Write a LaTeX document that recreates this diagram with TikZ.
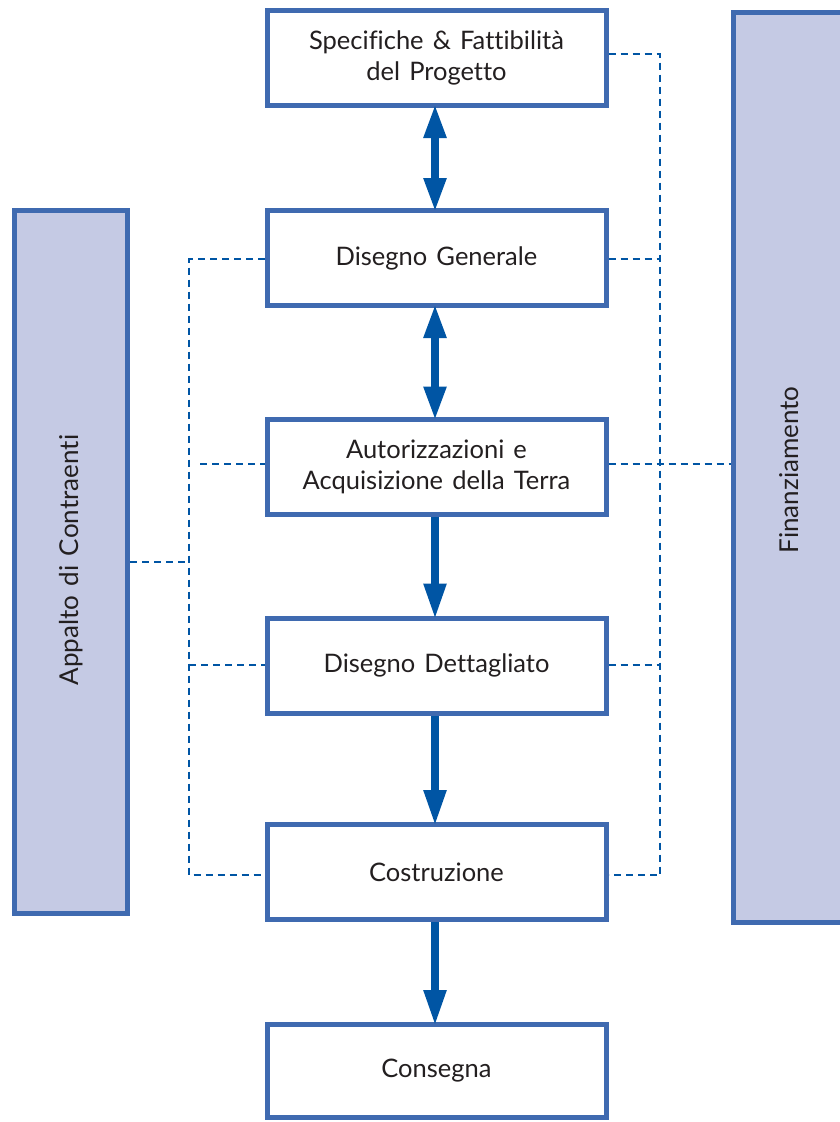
\documentclass[tikz,border=0pt]{standalone}
\usepackage{fontspec}
\setmainfont{Lato}[Ligatures=NoCommon,WordSpace=1.4]
\usetikzlibrary{arrows.meta}
\definecolor{boxblue}{HTML}{3F6AB0}
\definecolor{panelfill}{HTML}{C5CAE4}
\definecolor{linkblue}{HTML}{0055A4}
\definecolor{txt}{HTML}{231F20}
\begin{document}
\begin{tikzpicture}[x=1pt,y=-1pt,
  stage/.style={draw=boxblue,line width=5pt,fill=white,minimum width=339pt,minimum height=95pt,
    inner sep=0pt,align=center,text=txt,font=\fontsize{25.5}{31}\selectfont},
  panel/.style={draw=boxblue,line width=5pt,fill=panelfill,inner sep=0pt},
  paneltext/.style={rotate=90,text=txt,font=\fontsize{26}{30}\selectfont},
  link/.style={draw=linkblue,line width=2.6pt,dash pattern=on 7pt off 5pt},
  flow/.style={draw=linkblue,fill=linkblue,line width=8pt,-{Triangle[length=36pt,width=21pt]}},
  flow2/.style={draw=linkblue,fill=linkblue,line width=8pt,{Triangle[length=34pt,width=21pt]}-{Triangle[length=34pt,width=21pt]}}]
\useasboundingbox (0,0) rectangle (840,1122);
% side panels
\node[panel,minimum width=113pt,minimum height=703pt] (appalto) at (71,562) {};
\node[paneltext] (appaltot) at (71,560) {Appalto di Contraenti};
\node[panel,minimum width=140pt,minimum height=910pt] (fin) at (803.5,467.5) {};
\node[paneltext] (fint) at (789,470) {Finanziamento};
% stages
\node[stage] (s1) at (436.5,58) {Specifiche \& Fattibilità\\del Progetto};
\node[stage] (s2) at (436.5,258) {Disegno Generale};
\node[stage] (s3) at (436.5,466.5) {Autorizzazioni e\\Acquisizione della Terra};
\node[stage] (s4) at (436.5,665.5) {Disegno Dettagliato};
\node[stage] (s5) at (436.5,872) {Costruzione};
\node[stage,minimum height=93pt] (s6) at (436.5,1071) {Consegna};
% right dashed links
\coordinate (rtop) at (660,54);
\coordinate (rbot) at (660,875);
\draw[link] (s1.east |- rtop) -- (rtop) -- (rbot) -- (s5.east |- rbot);
\draw[link] (s2.east |- 0,259) -- (660,259);
\draw[link] (s3.east |- 0,464) -- (fin.west |- 0,464);
\draw[link] (s4.east |- 0,665) -- (660,665);
% left dashed links
\coordinate (ltop) at (189,259);
\coordinate (lbot) at (189,875);
\draw[link] (s2.west |- ltop) -- (ltop) -- (lbot) -- (s5.west |- lbot);
\draw[link] (200,464) -- (s3.west |- 0,464);
\draw[link] (appalto.east |- 0,562) -- (189,562);
\draw[link] (189,665) -- (s4.west |- 0,665);
% flow arrows
\draw[flow2] ([xshift=-1.5pt,yshift=4pt]s1.south) -- ([xshift=-1.5pt,yshift=-4pt]s2.north);
\draw[flow2] ([xshift=-1.5pt,yshift=4pt]s2.south) -- ([xshift=-1.5pt,yshift=-4pt]s3.north);
\draw[flow] ([xshift=-1.5pt]s3.south) -- ([xshift=-1.5pt,yshift=-4pt]s4.north);
\draw[flow] ([xshift=-1.5pt]s4.south) -- ([xshift=-1.5pt,yshift=-4pt]s5.north);
\draw[flow] ([xshift=-1.5pt]s5.south) -- ([xshift=-1.5pt,yshift=-4pt]s6.north);
\end{tikzpicture}
\end{document}
